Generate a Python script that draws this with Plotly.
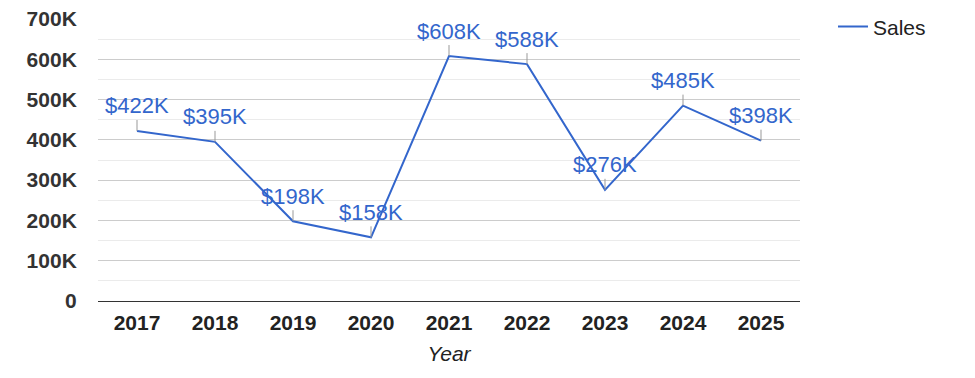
import plotly.graph_objects as go

years = ["2017", "2018", "2019", "2020", "2021", "2022", "2023", "2024", "2025"]
sales = [422000, 395000, 198000, 158000, 608000, 588000, 276000, 485000, 398000]
labels = ["$422K", "$395K", "$198K", "$158K", "$608K", "$588K", "$276K", "$485K", "$398K"]
y_tickvals = [0, 100000, 200000, 300000, 400000, 500000, 600000, 700000]
y_ticktext = ["0", "100K", "200K", "300K", "400K", "500K", "600K", "700K"]

FONT = "Arial, Liberation Sans, sans-serif"
BLUE = "#3366cc"

fig = go.Figure()
fig.add_trace(go.Scatter(
    x=years, y=sales, mode="lines", name="Sales",
    line=dict(color=BLUE, width=2),
    hoverinfo="skip",
))

for i, (y, t) in enumerate(zip(sales, labels)):
    fig.add_annotation(
        x=i, y=y, xref="x", yref="y", text=t, showarrow=True, arrowhead=0, arrowwidth=1,
        arrowcolor="#999999", ax=0, ay=-25,
        font=dict(family=FONT, size=22, color=BLUE),
    )

# page body has an 8px default margin, so the figure is sized/offset for it
fig.update_layout(
    width=967, height=370,
    margin=dict(l=90, r=175, t=11, b=77, autoexpand=False),
    paper_bgcolor="white", plot_bgcolor="white",
    font=dict(family=FONT, size=21, color="#222222"),
    showlegend=True,
    legend=dict(x=1.047, y=1.045, xanchor="left", yanchor="top",
                font=dict(family=FONT, size=21, color="#222222"),
                bgcolor="rgba(0,0,0,0)"),
    xaxis=dict(
        type="category", range=[-0.5, 8.5], automargin=False,
        showgrid=False, zeroline=False, showline=False,
        tickfont=dict(family=FONT, size=21, color="#222222", weight="bold"),
        ticks="outside", ticklen=3, tickcolor="rgba(0,0,0,0)",
        title=dict(text="<i>Year</i>", font=dict(family=FONT, size=21, color="#222222"), standoff=13),
    ),
    yaxis=dict(
        range=[0, 700000], automargin=False, ticklabeloverflow="allow",
        tickvals=y_tickvals, ticktext=y_ticktext,
        showgrid=True, gridcolor="#cccccc", gridwidth=1,
        minor=dict(dtick=50000, showgrid=True, gridcolor="#ebebeb", gridwidth=1),
        zeroline=True, zerolinecolor="#333333", zerolinewidth=1,
        showline=False,
        tickfont=dict(family=FONT, size=21, color="#333333", weight="bold"),
        ticks="outside", ticklen=16, tickcolor="rgba(0,0,0,0)",
    ),
)

fig.write_html("out.html")
